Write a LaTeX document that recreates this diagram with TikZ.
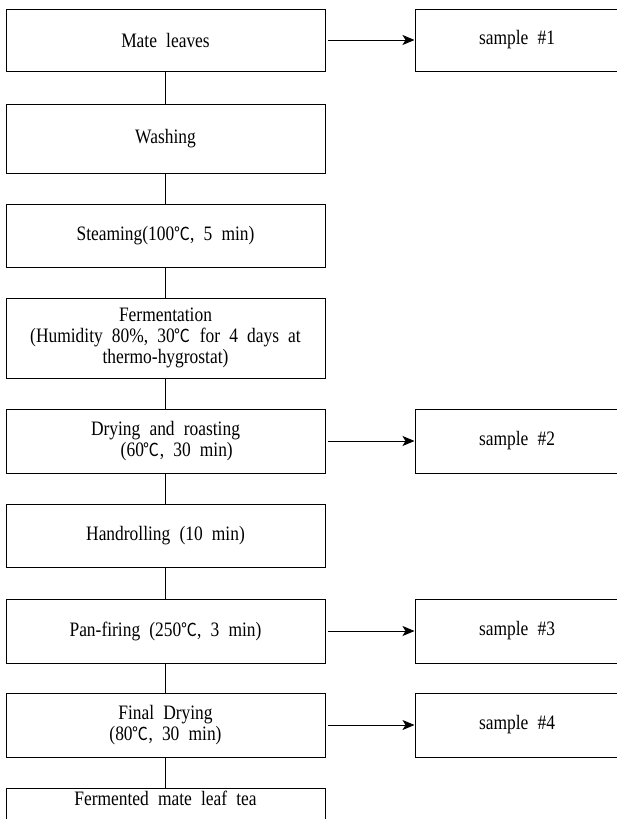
\documentclass[tikz,border=0pt]{standalone}
\usepackage{fontspec}
\setmainfont{Liberation Serif}[WordSpace=2.1,FakeStretch=0.85]
\newfontfamily\cjk{Noto Sans CJK SC}[FakeStretch=0.88]
\usetikzlibrary{positioning,arrows.meta}
\newcommand{\degc}{{\cjk\fontsize{18}{18}\selectfont ℃}}

\tikzset{
  stepbox/.style={draw,line width=1pt,minimum width=319pt,minimum height=63pt,
    align=center,inner sep=2pt,font=\fontsize{20.5}{21}\selectfont},
  samplebox/.style={draw,line width=1pt,minimum width=204pt,
    align=center,inner sep=2pt,font=\fontsize{20.5}{21}\selectfont},
  flow/.style={line width=1pt},
  toward/.style={line width=1pt,-{Stealth[length=12pt,width=10pt,inset=3pt]},shorten <=2pt}
}

\begin{document}
\begin{tikzpicture}[x=1pt,y=1pt,node distance=30pt]
\useasboundingbox (0,0) rectangle (616,-819);
% process column
\node[stepbox,anchor=north west,minimum height=62pt] (leaves) at (5.5,-8.5) {Mate leaves};
\node[stepbox,below=32pt of leaves,minimum height=69pt] (washing) {Washing};
\node[stepbox,below=of washing] (steaming) {Steaming(100\degc, 5 min)};
\node[stepbox,below=of steaming,minimum height=80pt] (ferment) {Fermentation\\(Humidity 80\%, 30\degc\ for 4 days at\\thermo-hygrostat)};
\node[stepbox,below=of ferment,minimum height=64pt] (drying) {Drying and roasting\\\hspace*{1.1em}(60\degc, 30 min)};
\node[stepbox,below=of drying] (rolling) {Handrolling (10 min)};
\node[stepbox,below=31pt of rolling,minimum height=64pt] (firing) {Pan-firing (250\degc, 3 min)};
\node[stepbox,below=29pt of firing,minimum height=64pt] (final) {Final Drying\\(80\degc, 30 min)};
\node[stepbox,below=of final,minimum height=0pt,inner ysep=4pt,text height=13pt,text depth=45pt] (tea) {Fermented mate leaf tea};
% samples
\node[samplebox,anchor=west,minimum height=62pt] (s1) at ([xshift=89pt]leaves.east) {sample \#1};
\node[samplebox,anchor=west,minimum height=64pt] (s2) at ([xshift=89pt]drying.east) {sample \#2};
\node[samplebox,anchor=west,minimum height=64pt] (s3) at ([xshift=89pt]firing.east) {sample \#3};
\node[samplebox,anchor=west,minimum height=64pt] (s4) at ([xshift=89pt]final.east) {sample \#4};
% connectors
\draw[flow] (leaves) -- (washing);
\draw[flow] (washing) -- (steaming);
\draw[flow] (steaming) -- (ferment);
\draw[flow] (ferment) -- (drying);
\draw[flow] (drying) -- (rolling);
\draw[flow] (rolling) -- (firing);
\draw[flow] (firing) -- (final);
\draw[flow] (final) -- (tea);
\draw[toward] (leaves) -- (s1);
\draw[toward] (drying) -- (s2);
\draw[toward] (firing) -- (s3);
\draw[toward] (final) -- (s4);
\end{tikzpicture}
\end{document}
